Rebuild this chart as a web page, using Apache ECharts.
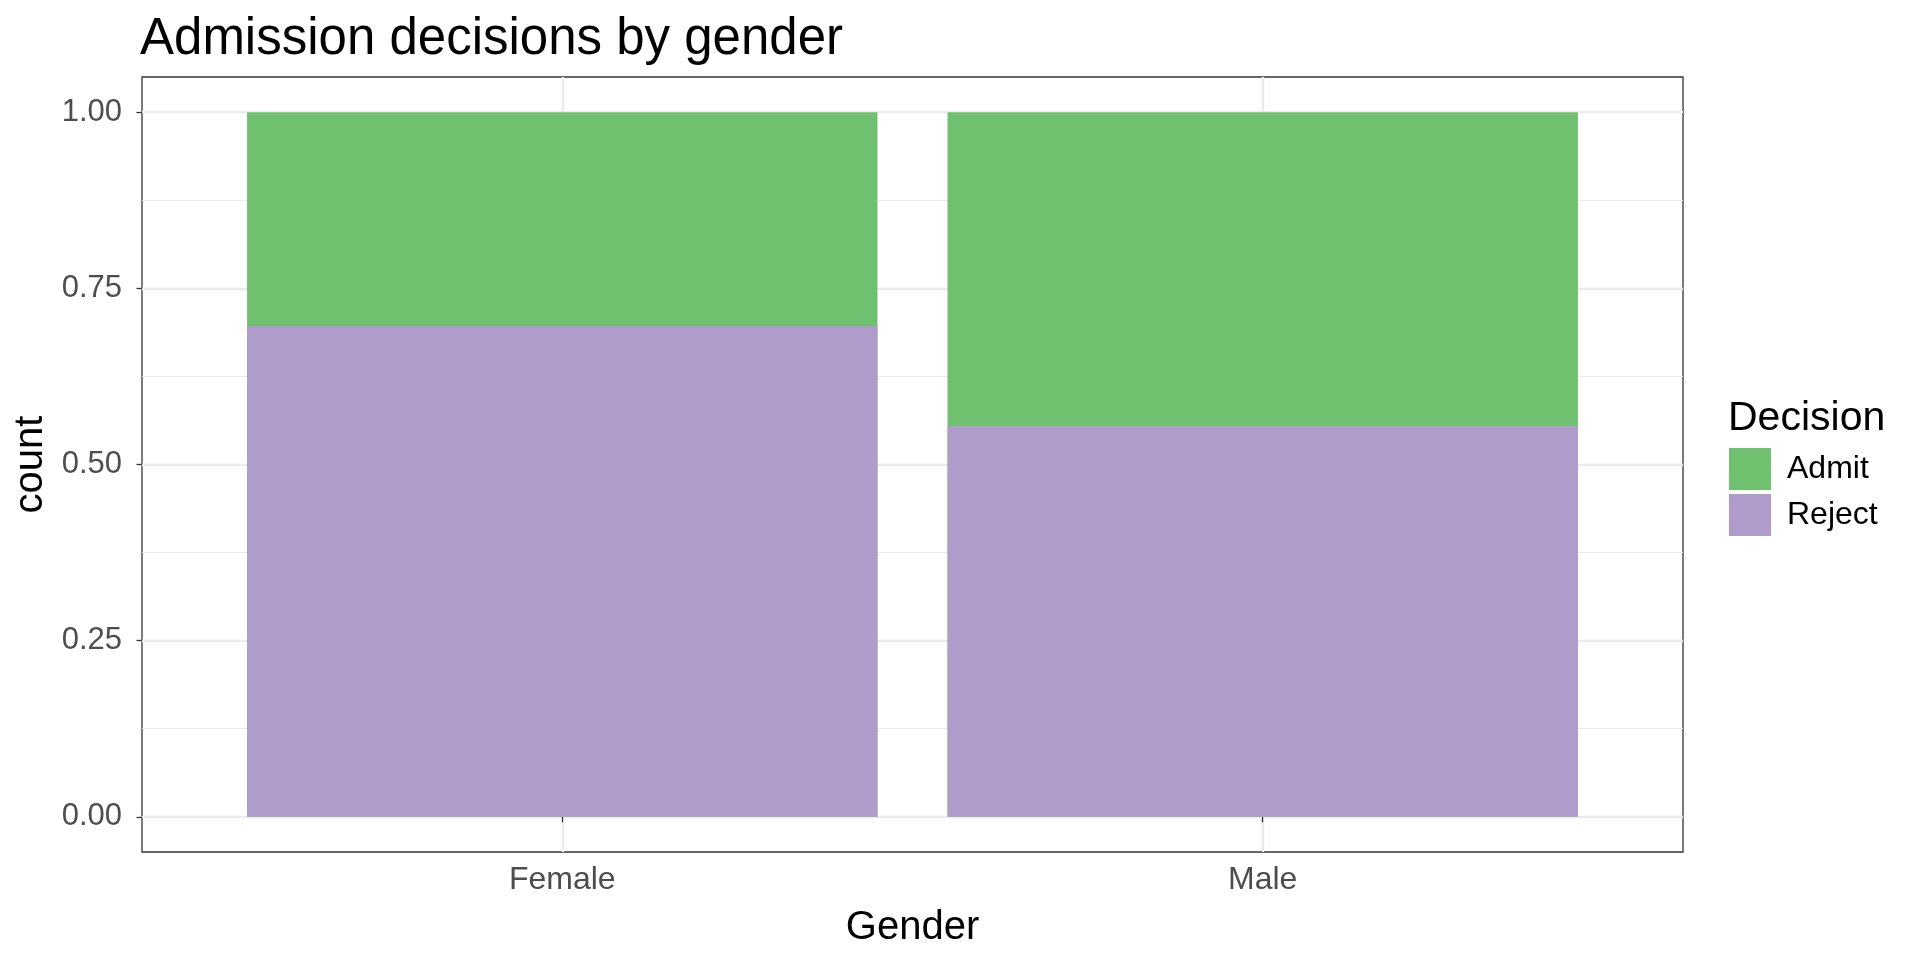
<!DOCTYPE html>
<html>
<head>
<meta charset="utf-8">
<script src="https://cdn.jsdelivr.net/npm/echarts@6/dist/echarts.min.js"></script>
<style>
html,body{margin:0;padding:0;background:#fff;}
#chart{width:1920px;height:960px;}
</style>
</head>
<body>
<div id="chart"></div>
<script>
// ---- data ----
const categories = ['Female', 'Male'];
const rejectShare = [0.6965, 0.5548];
const admitShare = [0.3035, 0.4452];
const yTicks = [0, 0.25, 0.5, 0.75, 1];
const yMinorTicks = [0.125, 0.375, 0.625, 0.875];
const legendOrder = ['Admit', 'Reject'];

const FONT = '"Liberation Sans", Arial, Helvetica, sans-serif';
const chart = echarts.init(document.getElementById('chart'), null, {renderer: 'canvas'});

const xPos = categories.map((c, i) => i + 1);
const rejectData = categories.map((c, i) => [xPos[i], rejectShare[i]]);
// Admit sits on top of Reject: its bar reaches reject + admit, drawn behind the Reject bar
const admitData = categories.map((c, i) => [xPos[i], rejectShare[i] + admitShare[i]]);

const option = {
  animation: false,
  backgroundColor: '#ffffff',
  title: [
    {
      text: 'Admission decisions by gender',
      left: 140, top: 14, padding: 0,
      textStyle: {fontFamily: FONT, fontSize: 51, fontWeight: 'normal', color: '#000'}
    },
    {
      text: 'Decision',
      left: 1728, top: 398, padding: 0,
      textStyle: {fontFamily: FONT, fontSize: 41, fontWeight: 'normal', color: '#000'}
    }
  ],
  legend: {
    data: legendOrder,
    orient: 'vertical',
    left: 1729, top: 448, padding: 0,
    itemWidth: 42, itemHeight: 42, itemGap: 4,
    icon: 'rect',
    textStyle: {fontFamily: FONT, fontSize: 32, color: '#000', padding: [0, 0, 0, 11]}
  },
  grid: {
    left: 142, right: 237, top: 77, bottom: 108,
    show: true, borderColor: '#333333', borderWidth: 1.3,
    outerBoundsMode: 'none'
  },
  xAxis: [{
    type: 'value', min: 0.4, max: 2.6, interval: 0.2,
    name: 'Gender', nameLocation: 'middle', nameGap: 56,
    nameTextStyle: {fontFamily: FONT, fontSize: 40, color: '#000'},
    axisLine: {show: false},
    axisTick: {show: true, length: 5.5, lineStyle: {color: '#333333', width: 1.3}, customValues: xPos},
    axisLabel: {
      show: true, customValues: xPos, margin: 12,
      fontFamily: FONT, fontSize: 32, color: '#4D4D4D',
      formatter: v => categories[Math.round(v) - 1] || ''
    },
    splitLine: {show: true, lineStyle: {color: '#EBEBEB', width: 2.4}}
  }],
  yAxis: [{
    type: 'value', min: -0.05, max: 1.05, interval: 0.025, position: 'left',
    name: 'count', nameLocation: 'middle', nameRotate: 90, nameGap: 87,
    nameTextStyle: {fontFamily: FONT, fontSize: 40, color: '#000'},
    axisLine: {show: false},
    axisTick: {show: true, length: 5.5, lineStyle: {color: '#333333', width: 1.3}, customValues: yTicks},
    axisLabel: {
      show: true, customValues: yTicks, margin: 20,
      fontFamily: FONT, fontSize: 31, color: '#4D4D4D',
      formatter: v => Number(v).toFixed(2)
    },
    splitLine: {show: true, lineStyle: {color: '#EBEBEB', width: 2.4}}
  }, {
    type: 'value', min: -0.05, max: 1.05, interval: 0.025, position: 'left',
    axisLine: {show: false},
    axisTick: {show: false, customValues: yMinorTicks},
    axisLabel: {show: false, customValues: yMinorTicks},
    splitLine: {show: true, lineStyle: {color: '#EBEBEB', width: 1.2}}
  }],
  series: [
    {
      name: 'Admit', type: 'bar', xAxisIndex: 0, yAxisIndex: 0,
      barWidth: '90%', barGap: '-100%', itemStyle: {color: '#70C16F'}, data: admitData, z: 2
    },
    {
      name: 'Reject', type: 'bar', xAxisIndex: 0, yAxisIndex: 0,
      barWidth: '90%', barGap: '-100%', itemStyle: {color: '#AF9CCA'}, data: rejectData, z: 3
    }
  ]
};
chart.setOption(option);
</script>
</body>
</html>
